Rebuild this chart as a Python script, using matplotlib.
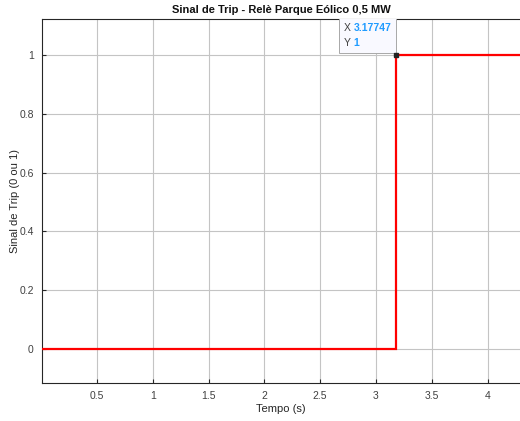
import matplotlib
matplotlib.use("Agg")
import matplotlib.pyplot as plt
from matplotlib.patches import Rectangle

plt.rcParams['font.family'] = ['Liberation Sans', 'DejaVu Sans']

# Data
t_trip = 3.17747
time = [0.0, t_trip, t_trip, 5.0]
trip = [0, 0, 1, 1]
xticks = [0.5, 1, 1.5, 2, 2.5, 3, 3.5, 4]
xticklabels = ['0.5', '1', '1.5', '2', '2.5', '3', '3.5', '4']
yticks = [0, 0.2, 0.4, 0.6, 0.8, 1]
yticklabels = ['0', '0.2', '0.4', '0.6', '0.8', '1']
tip_x_label = '3.17747'
tip_y_label = '1'

W, H = 520, 421
fig = plt.figure(figsize=(W / 100, H / 100), dpi=100)
fig.patch.set_facecolor('white')

left_px, right_px, top_px, bot_px = 42, 560, 19, 383
ax = fig.add_axes([left_px / W, 1 - bot_px / H, (right_px - left_px) / W, (bot_px - top_px) / H])

x0 = 0.0075
xpp = 0.5 / 55.8
ax.set_xlim(x0, x0 + (right_px - left_px) * xpp)
ypp = 1 / 294
ax.set_ylim(-34 * ypp, 1 + 36 * ypp)

ax.plot(time, trip, color='#ff0000', lw=1.6, solid_joinstyle='miter', zorder=3)
ax.plot([t_trip], [1], marker='s', ms=3, color='#222222', zorder=8)

ax.set_xticks(xticks)
ax.set_xticklabels(xticklabels)
ax.set_yticks(yticks)
ax.set_yticklabels(yticklabels)
ax.grid(True, color='#c4c4c4', lw=0.8)
ax.set_axisbelow(True)
ax.tick_params(direction='in', length=3, color='#262626', labelsize=7.5, labelcolor='#404040', pad=6)
for s in ['left', 'bottom', 'top']:
    ax.spines[s].set_color('#262626')
    ax.spines[s].set_linewidth(0.8)
ax.spines['right'].set_visible(False)

fig.text((left_px + 520) / 2 / W, 1 - 409 / H, 'Tempo (s)', ha='center', va='center',
         fontsize=8, color='#262626')
fig.text(15 / W, 1 - 201 / H, 'Sinal de Trip (0 ou 1)', ha='center', va='center',
         rotation=90, fontsize=8, color='#262626')
fig.text((left_px + 520) / 2 / W, 1 - 10 / H, 'Sinal de Trip - Relè Parque Eólico 0,5 MW',
         ha='center', va='center', fontsize=8, fontweight='bold', color='#111111')

# Data tip
bw, bh = 57, 35
bx0 = t_trip - bw * xpp
by0 = 1 + 2 * ypp
ax.add_patch(Rectangle((bx0, by0), bw * xpp, bh * ypp, fc='#f9f9ff', ec='#a8a8a8', lw=0.7, zorder=6))
ax.text(bx0 + 5 * xpp, by0 + 25 * ypp, 'X', fontsize=7.5, color='#404040', va='center', ha='left', zorder=7)
ax.text(bx0 + 15 * xpp, by0 + 25 * ypp, tip_x_label, fontsize=7.5, color='#1f9bff', fontweight='bold', va='center', ha='left', zorder=7)
ax.text(bx0 + 5 * xpp, by0 + 10 * ypp, 'Y', fontsize=7.5, color='#404040', va='center', ha='left', zorder=7)
ax.text(bx0 + 15 * xpp, by0 + 10 * ypp, tip_y_label, fontsize=7.5, color='#1f9bff', fontweight='bold', va='center', ha='left', zorder=7)

fig.savefig('out.png', dpi=100)
